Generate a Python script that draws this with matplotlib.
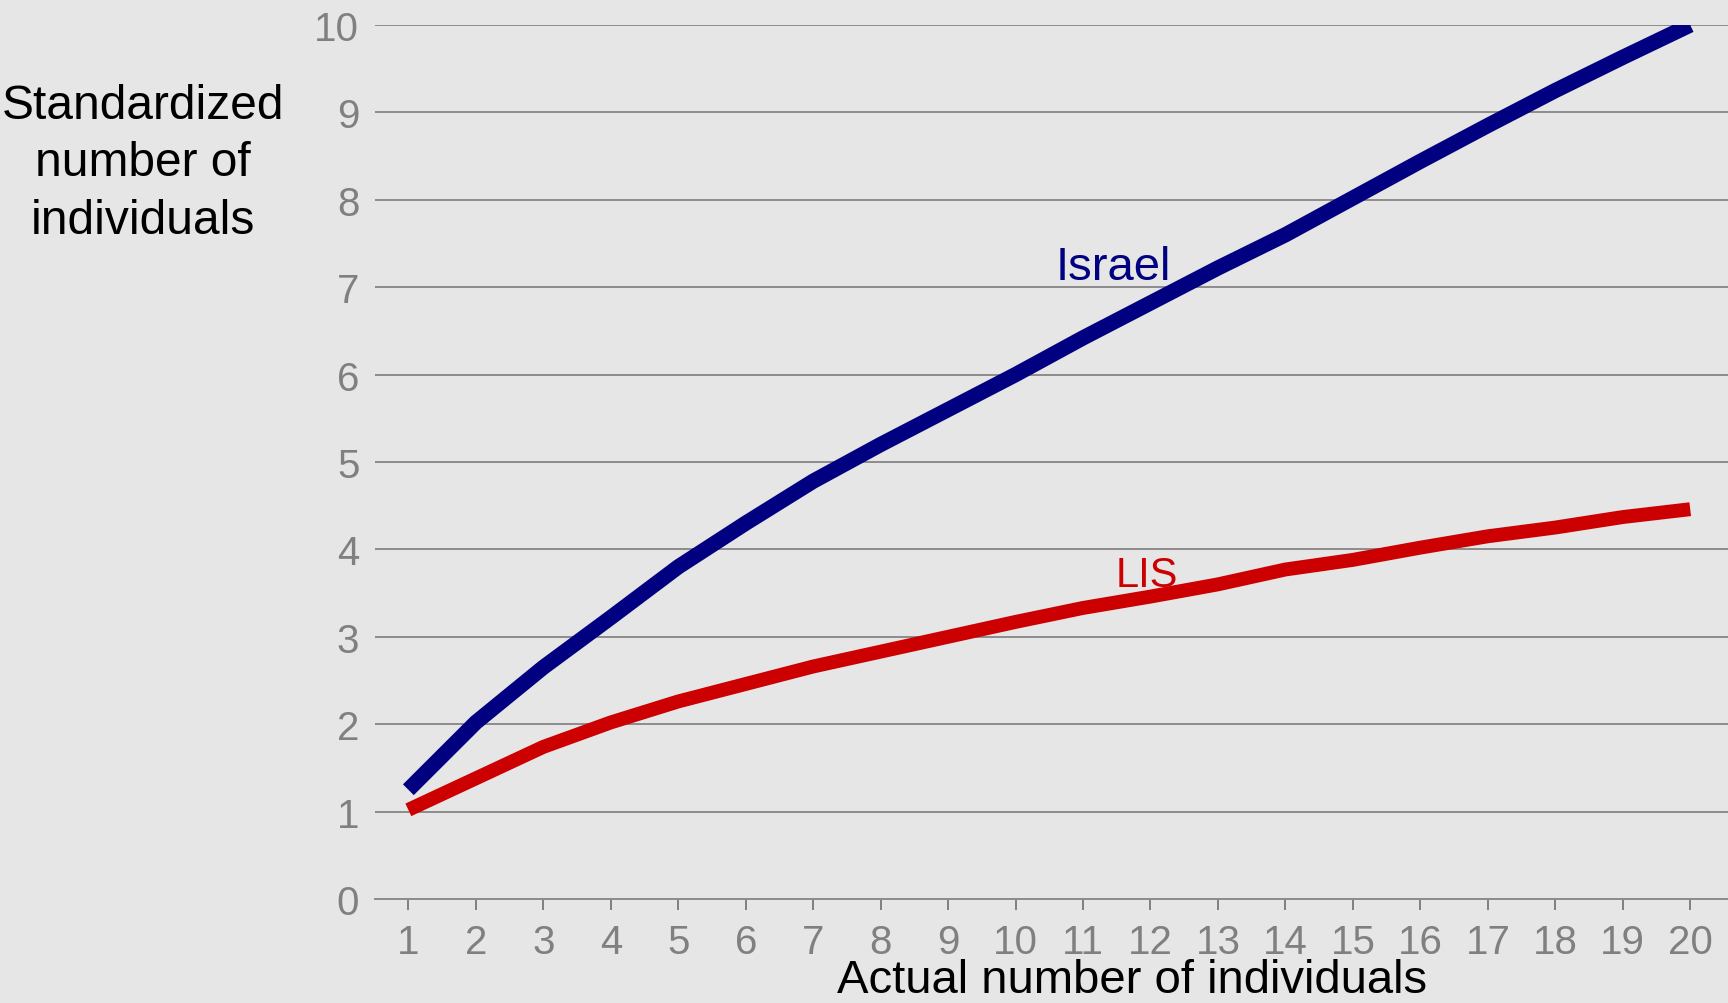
import numpy as np
from matplotlib import pyplot as plt

# Data
actual = list(range(1, 21))
israel = [1.25, 2.02, 2.65, 3.22, 3.80, 4.30, 4.78, 5.20, 5.60, 6.00,
          6.42, 6.82, 7.22, 7.60, 8.02, 8.44, 8.85, 9.25, 9.63, 10.0]
lis = [1.02, 1.38, 1.74, 2.02, 2.26, 2.46, 2.66, 2.83, 3.00, 3.17,
       3.33, 3.46, 3.60, 3.77, 3.88, 4.02, 4.15, 4.25, 4.37, 4.46]
y_ticks = list(range(0, 11))

plt.rcParams['font.family'] = ['Liberation Sans', 'DejaVu Sans']

bg = '#e6e6e6'
fig = plt.figure(figsize=(17.28, 10.04), dpi=100, facecolor=bg)
ax = fig.add_axes([0.2168, 0.1036, 0.7832, 0.8705])
ax.set_facecolor(bg)

ax.plot(actual, israel, color='#000080', lw=11, solid_capstyle='butt', zorder=3)
ax.plot(actual, lis, color='#cc0000', lw=10, solid_capstyle='butt', zorder=3)

ax.set_xlim(0.5, 20.56)
ax.set_ylim(0, 10)
ax.set_xticks(actual)
ax.set_yticks(y_ticks)

# grid and spines
ax.grid(axis='y', color='#8c8c8c', lw=1.4, zorder=1)
for s in ['top', 'right', 'left']:
    ax.spines[s].set_visible(False)
ax.spines['bottom'].set_color('#8c8c8c')
ax.spines['bottom'].set_linewidth(1.4)
ax.tick_params(axis='x', colors='#808080', labelsize=29, length=8, width=1.4,
               direction='out', pad=9)
ax.tick_params(axis='y', colors='#808080', labelsize=29, length=0, pad=11)

# series labels
ax.text(10.6, 7.09, 'Israel', color='#000080', fontsize=34, va='baseline')
ax.text(11.49, 3.58, 'LIS', color='#cc0000', fontsize=30, va='baseline')

# axis titles
for line, yb in zip(['Standardized', 'number of', 'individuals'],
                    [0.8815, 0.8247, 0.767]):
    fig.text(0.0829, yb, line, fontsize=34.5, ha='center', va='baseline')
fig.text(0.655, 0.001, 'Actual number of individuals', fontsize=34,
         ha='center', va='bottom')

fig.savefig('out.png', dpi=100, facecolor=bg)
